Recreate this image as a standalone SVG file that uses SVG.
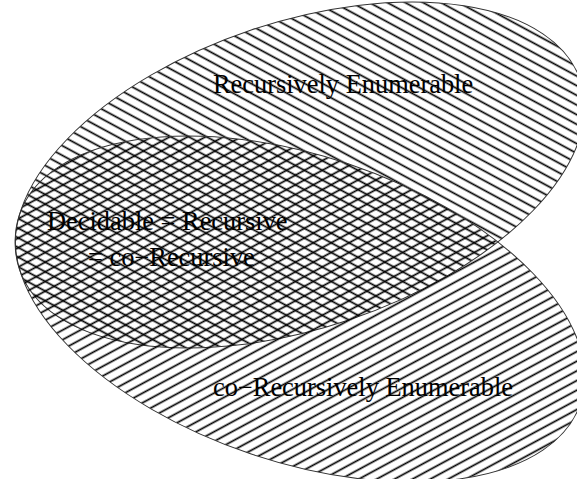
<svg xmlns="http://www.w3.org/2000/svg" width="577" height="479" viewBox="0 0 577 479">
<defs>
<pattern id="hatchBack" patternUnits="userSpaceOnUse" width="8.5" height="8.5" patternTransform="rotate(47)">
<line x1="-1" y1="4.25" x2="9.5" y2="4.25" stroke="#000" stroke-width="1.7"/>
</pattern>
<pattern id="hatchFwd" patternUnits="userSpaceOnUse" width="8.5" height="8.5" patternTransform="rotate(-47)">
<line x1="-1" y1="4.25" x2="9.5" y2="4.25" stroke="#000" stroke-width="1.7"/>
</pattern>
</defs>
<style>
.outline{fill:none;stroke:#333;stroke-width:1}
text{font-family:"Liberation Serif","Times New Roman",serif;font-size:26.4px;fill:#000}
</style>
<rect width="577" height="479" fill="#fff"/>
<g id="recursively-enumerable">
<ellipse cx="300" cy="175" rx="296" ry="153" transform="rotate(-18.6 300 175)" fill="url(#hatchBack)"/>
<ellipse class="outline" cx="300" cy="175" rx="296" ry="153" transform="rotate(-18.6 300 175)"/>
<text x="213" y="93">Recursively Enumerable</text>
</g>
<g id="co-recursively-enumerable">
<ellipse cx="300" cy="309" rx="296" ry="153" transform="rotate(18.6 300 309)" fill="url(#hatchFwd)"/>
<ellipse class="outline" cx="300" cy="309" rx="296" ry="153" transform="rotate(18.6 300 309)"/>
<text x="213" y="396">co−Recursively Enumerable</text>
</g>
<g id="decidable">
<text x="47" y="230">Decidable = Recursive</text>
<text x="88" y="266">= co−Recursive</text>
</g>
</svg>
